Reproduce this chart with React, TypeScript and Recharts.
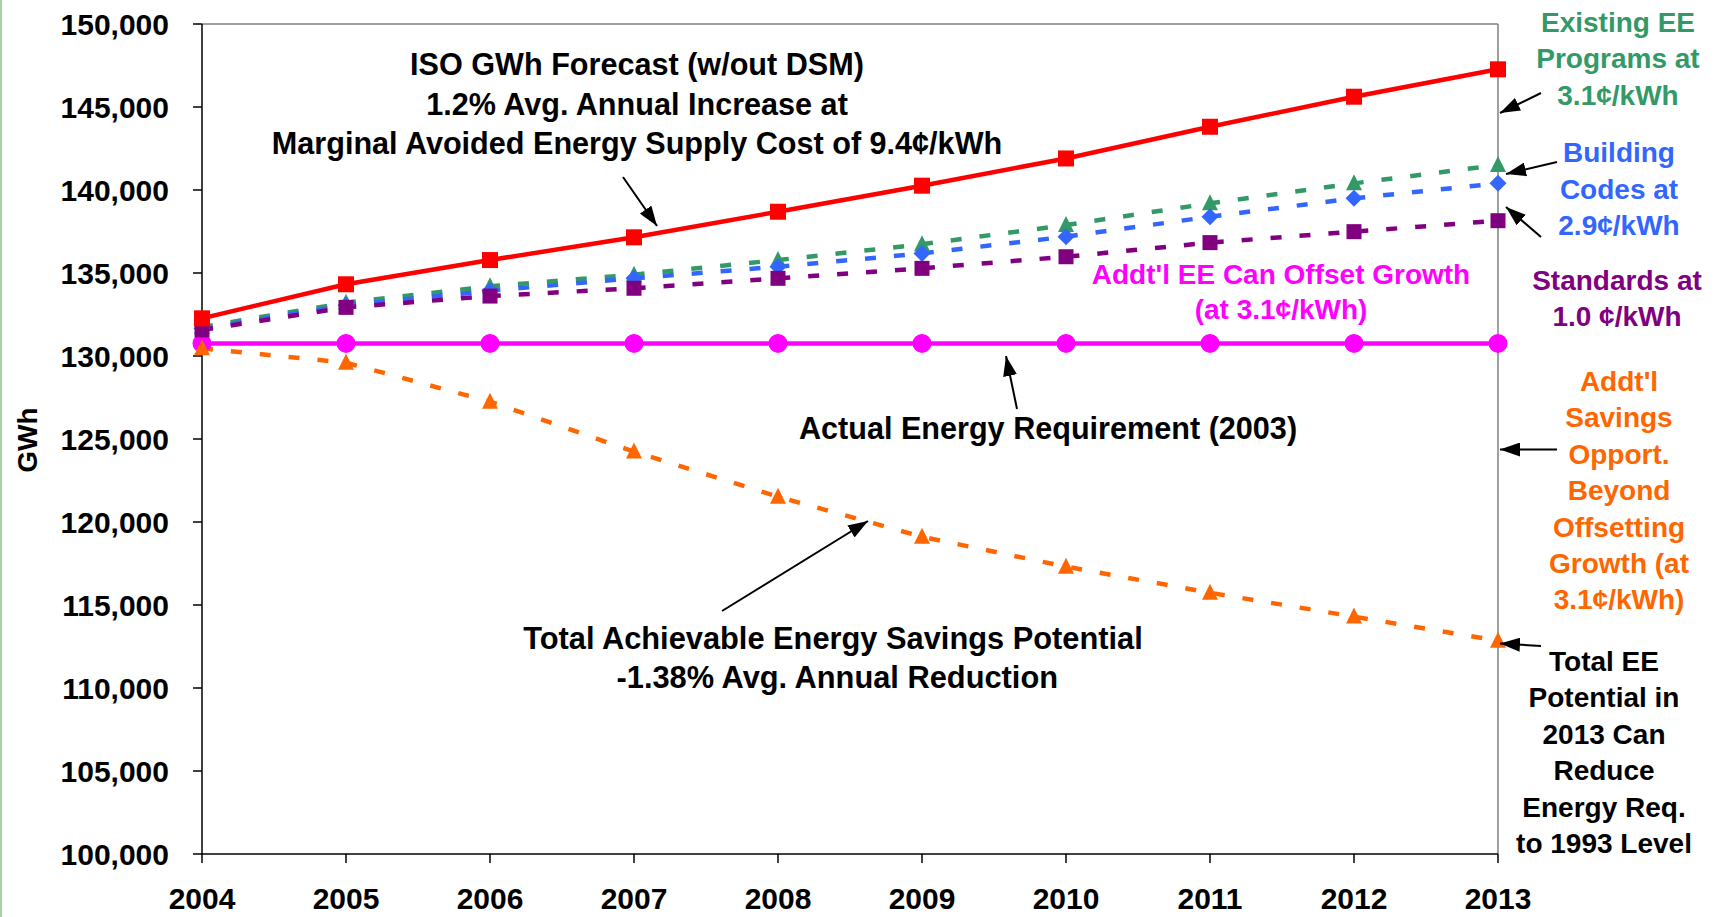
import React from 'react';
import { LineChart, Line, XAxis, YAxis, ReferenceLine } from 'recharts';

const years = [2004, 2005, 2006, 2007, 2008, 2009, 2010, 2011, 2012, 2013];
const isoForecast = [132270, 134320, 135780, 137150, 138690, 140260, 141900, 143810, 145620, 147270];
const existingEE = [131750, 133210, 134200, 134900, 135780, 136730, 137890, 139200, 140400, 141510];
const buildingCodes = [131650, 133050, 133930, 134680, 135380, 136180, 137190, 138390, 139500, 140400];
const standards = [131570, 132930, 133610, 134080, 134680, 135280, 135980, 136830, 137490, 138150];
const actual2003 = [130760, 130760, 130760, 130760, 130760, 130760, 130760, 130760, 130760, 130760];
const totalAchievable = [130460, 129600, 127250, 124240, 121520, 119110, 117310, 115740, 114300, 112850];
const yTicks = [100000, 105000, 110000, 115000, 120000, 125000, 130000, 135000, 140000, 145000, 150000];

const data = years.map((year, i) => ({
  year,
  iso: isoForecast[i],
  existing: existingEE[i],
  building: buildingCodes[i],
  standards: standards[i],
  actual: actual2003[i],
  total: totalAchievable[i],
}));

const FONT = '"Liberation Sans", Arial, Helvetica, sans-serif';
const RED = '#FF0000';
const GREEN = '#339966';
const BLUE = '#3366FF';
const PURPLE = '#800080';
const MAGENTA = '#FF00FF';
const ORANGE = '#FF6600';

type Shape = 'square' | 'triangle' | 'diamond' | 'circle';

function makeDot(shape: Shape, color: string, size: number) {
  return (props: any) => {
    const { cx, cy, index } = props;
    const k = `${shape}-${color}-${index}`;
    if (cx == null || cy == null) return <g key={k} />;
    const h = size / 2;
    if (shape === 'square') {
      return <rect key={k} x={cx - h} y={cy - h} width={size} height={size} fill={color} />;
    }
    if (shape === 'triangle') {
      return (
        <polygon
          key={k}
          points={`${cx},${cy - h - 1} ${cx - h},${cy + h - 1} ${cx + h},${cy + h - 1}`}
          fill={color}
        />
      );
    }
    if (shape === 'diamond') {
      return (
        <polygon
          key={k}
          points={`${cx},${cy - h} ${cx + h},${cy} ${cx},${cy + h} ${cx - h},${cy}`}
          fill={color}
        />
      );
    }
    return <circle key={k} cx={cx} cy={cy} r={h} fill={color} />;
  };
}

const tickStyle = { fontSize: 30, fontWeight: 700, fill: '#000', fontFamily: FONT };

function TextLines({
  x,
  y0,
  step,
  lines,
  color,
  size,
}: {
  x: number;
  y0: number;
  step: number;
  lines: string[];
  color: string;
  size: number;
}) {
  return (
    <g>
      {lines.map((t, i) => (
        <text
          key={i}
          x={x}
          y={y0 + i * step}
          textAnchor="middle"
          fill={color}
          fontSize={size}
          fontWeight={700}
          fontFamily={FONT}
          style={{ whiteSpace: 'pre' }}
        >
          {t}
        </text>
      ))}
    </g>
  );
}

function Arrow({ x1, y1, x2, y2 }: { x1: number; y1: number; x2: number; y2: number }) {
  return <line x1={x1} y1={y1} x2={x2} y2={y2} stroke="#000" strokeWidth={2} markerEnd="url(#arrowhead)" />;
}

export default function App() {
  return (
    <div
      style={{
        position: 'absolute',
        left: 0,
        top: 0,
        width: 1726,
        height: 917,
        background: '#fff',
        overflow: 'hidden',
      }}
    >
      <div style={{ position: 'absolute', left: 0, top: 0, width: 2, height: 917, background: '#A3D6A3' }} />
      <LineChart width={1726} height={917} data={data} margin={{ top: 24, right: 228, bottom: 0, left: 0 }}>
        <XAxis
          dataKey="year"
          type="number"
          domain={[2004, 2013]}
          ticks={years}
          tickFormatter={(v: number) => String(v)}
          height={63}
          tickSize={9}
          tickMargin={25}
          tick={tickStyle}
          axisLine={{ stroke: '#000', strokeWidth: 1.5 }}
          tickLine={{ stroke: '#000', strokeWidth: 1.5 }}
          allowDecimals={false}
        />
        <YAxis
          type="number"
          domain={[100000, 150000]}
          ticks={yTicks}
          tickFormatter={(v: number) => v.toLocaleString('en-US')}
          width={202}
          tickSize={9}
          tickMargin={24}
          tick={tickStyle}
          axisLine={{ stroke: '#000', strokeWidth: 1.5 }}
          tickLine={{ stroke: '#000', strokeWidth: 1.5 }}
          allowDataOverflow
        />
        <ReferenceLine y={150000} stroke="#808080" strokeWidth={1.5} />
        <ReferenceLine x={2013} stroke="#808080" strokeWidth={1.5} />
        <Line
          dataKey="actual"
          stroke={MAGENTA}
          strokeWidth={4.5}
          dot={makeDot('circle', MAGENTA, 19)}
          activeDot={false}
          isAnimationActive={false}
        />
        <Line
          dataKey="existing"
          stroke={GREEN}
          strokeWidth={4.5}
          strokeDasharray="11 18"
          dot={makeDot('triangle', GREEN, 16)}
          activeDot={false}
          isAnimationActive={false}
        />
        <Line
          dataKey="building"
          stroke={BLUE}
          strokeWidth={4.5}
          strokeDasharray="11 18"
          dot={makeDot('diamond', BLUE, 17)}
          activeDot={false}
          isAnimationActive={false}
        />
        <Line
          dataKey="standards"
          stroke={PURPLE}
          strokeWidth={4.5}
          strokeDasharray="11 18"
          dot={makeDot('square', PURPLE, 15)}
          activeDot={false}
          isAnimationActive={false}
        />
        <Line
          dataKey="total"
          stroke={ORANGE}
          strokeWidth={4.5}
          strokeDasharray="11 18"
          dot={makeDot('triangle', ORANGE, 16)}
          activeDot={false}
          isAnimationActive={false}
        />
        <Line
          dataKey="iso"
          stroke={RED}
          strokeWidth={4.5}
          dot={makeDot('square', RED, 16)}
          activeDot={false}
          isAnimationActive={false}
        />
      </LineChart>
      <svg
        width={1726}
        height={917}
        style={{ position: 'absolute', left: 0, top: 0, pointerEvents: 'none' }}
      >
        <defs>
          <marker
            id="arrowhead"
            markerUnits="userSpaceOnUse"
            markerWidth={20}
            markerHeight={14}
            refX={20}
            refY={7}
            orient="auto"
          >
            <path d="M0,0 L20,7 L0,14 z" fill="#000" />
          </marker>
        </defs>
        <text
          x={0}
          y={0}
          transform="translate(37,440) rotate(-90)"
          textAnchor="middle"
          fontSize={28}
          fontWeight={700}
          fontFamily={FONT}
          fill="#000"
        >
          GWh
        </text>
        <TextLines
          x={637}
          y0={75}
          step={39.5}
          size={30.6}
          color="#000"
          lines={[
            'ISO GWh Forecast (w/out DSM)',
            '1.2% Avg. Annual Increase at',
            'Marginal Avoided Energy Supply Cost of 9.4¢/kWh',
          ]}
        />
        <Arrow x1={623} y1={177} x2={657} y2={226} />
        <TextLines x={1048} y0={439} step={39} size={30.6} color="#000" lines={['Actual Energy Requirement (2003)']} />
        <Arrow x1={1017} y1={409} x2={1006} y2={356} />
        <TextLines
          x={833}
          y0={649}
          step={39}
          size={30.8}
          color="#000"
          lines={['Total Achievable Energy Savings Potential', ' -1.38% Avg. Annual Reduction']}
        />
        <Arrow x1={722} y1={611} x2={868} y2={521} />
        <TextLines
          x={1281}
          y0={284}
          step={35}
          size={28}
          color={MAGENTA}
          lines={["Addt'l EE Can Offset Growth", '(at 3.1¢/kWh)']}
        />
        <TextLines
          x={1618}
          y0={32}
          step={36.3}
          size={28}
          color={GREEN}
          lines={['Existing EE', 'Programs at', '3.1¢/kWh']}
        />
        <Arrow x1={1541} y1={93} x2={1500} y2={113} />
        <TextLines
          x={1619}
          y0={162}
          step={36.5}
          size={28}
          color={BLUE}
          lines={['Building', 'Codes at', '2.9¢/kWh']}
        />
        <Arrow x1={1557} y1={162} x2={1506} y2={174} />
        <TextLines
          x={1617}
          y0={289.5}
          step={36.5}
          size={28}
          color={PURPLE}
          lines={['Standards at', '1.0 ¢/kWh']}
        />
        <Arrow x1={1541} y1={237} x2={1506} y2={207} />
        <TextLines
          x={1619}
          y0={391}
          step={36.4}
          size={28}
          color={ORANGE}
          lines={["Addt'l", 'Savings', 'Opport.', 'Beyond', 'Offsetting', 'Growth (at', '3.1¢/kWh)']}
        />
        <Arrow x1={1557} y1={449.5} x2={1500} y2={449.5} />
        <TextLines
          x={1604}
          y0={670.5}
          step={36.5}
          size={28}
          color="#000"
          lines={['Total EE', 'Potential in', '2013 Can', 'Reduce', 'Energy Req.', 'to 1993 Level']}
        />
        <Arrow x1={1541} y1={646} x2={1500} y2={643.5} />
      </svg>
    </div>
  );
}
